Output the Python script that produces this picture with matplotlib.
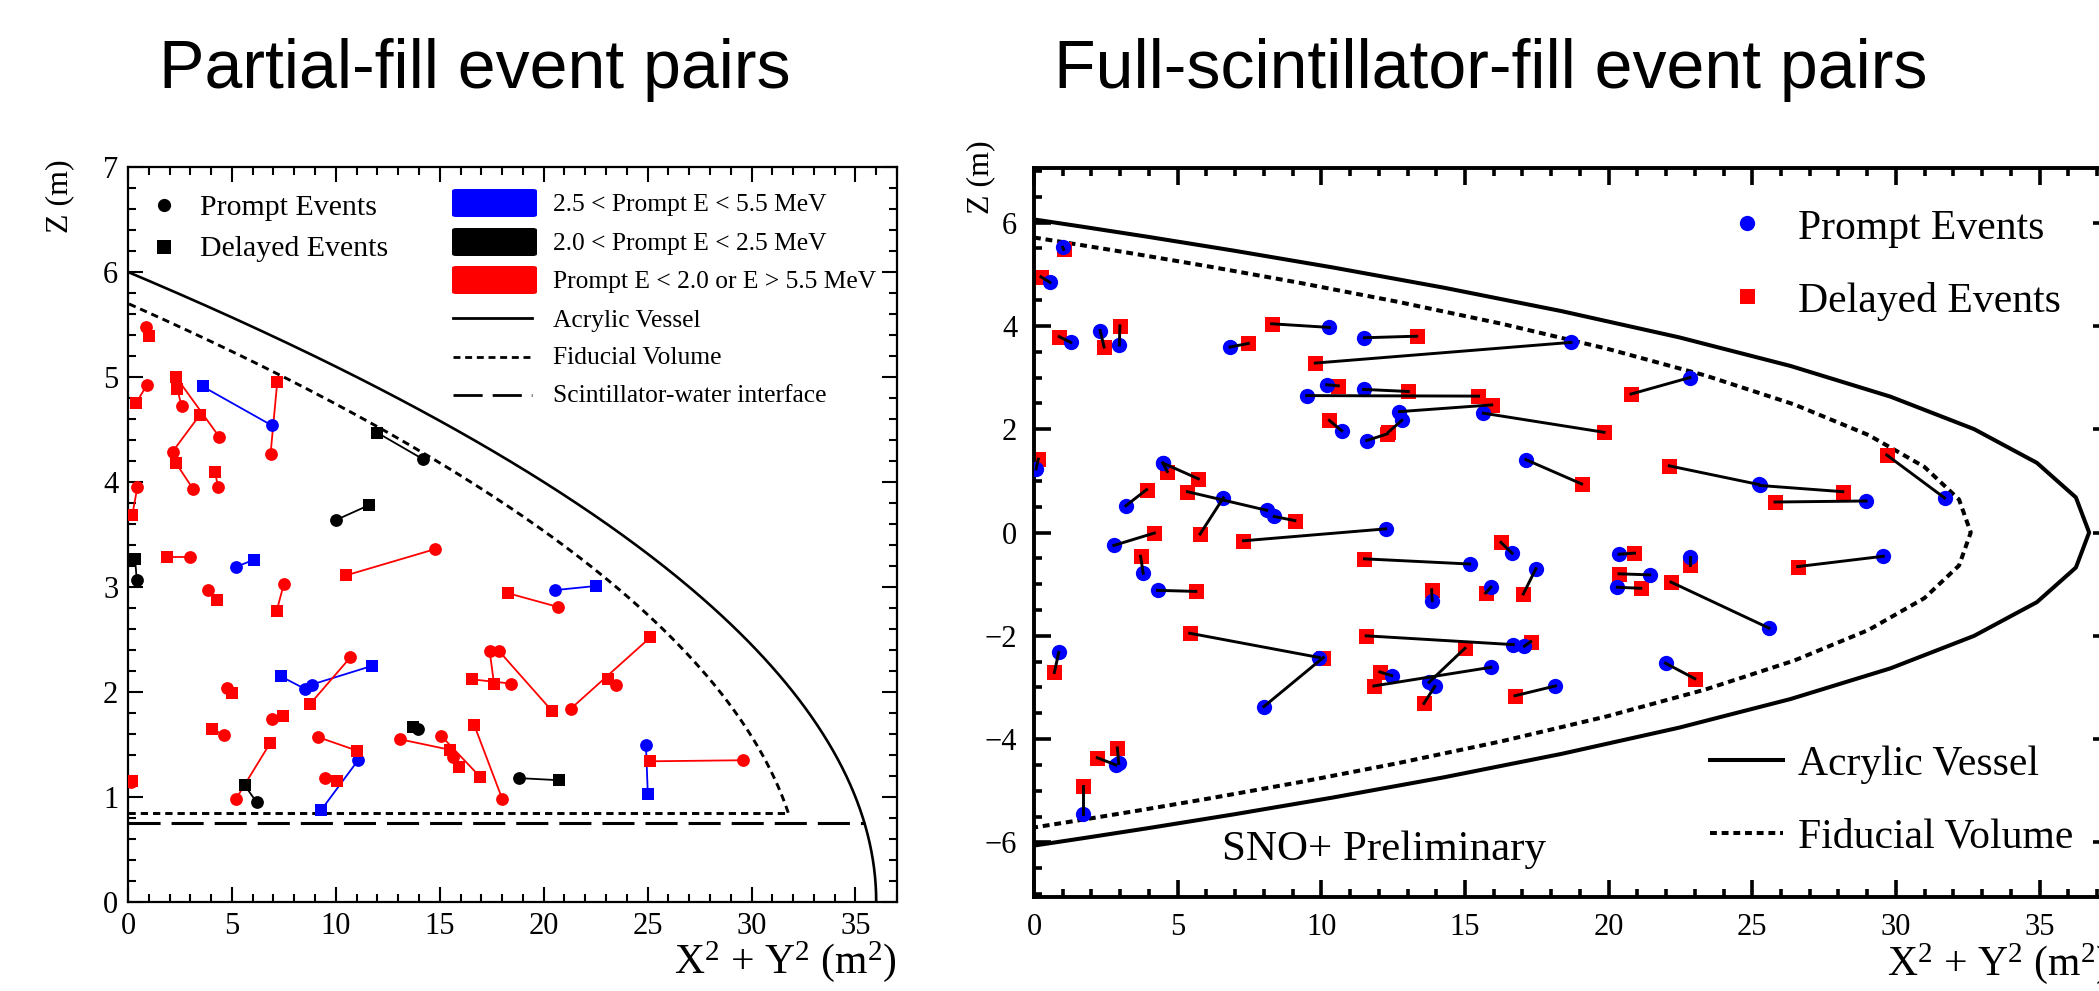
import numpy as np
import matplotlib
matplotlib.use("Agg")
import matplotlib.pyplot as plt
from matplotlib.lines import Line2D
from matplotlib.patches import FancyBboxPatch
from matplotlib.ticker import MultipleLocator

plt.rcParams['font.family'] = ['Liberation Serif', 'DejaVu Serif']
plt.rcParams['mathtext.fontset'] = 'custom'
plt.rcParams['mathtext.rm'] = 'Liberation Serif'
plt.rcParams['mathtext.it'] = 'Liberation Serif:italic'
plt.rcParams['mathtext.bf'] = 'Liberation Serif:bold'

#--------------------------------------------------------
# Partial fill: pares (prompt = circulo, delayed = cuadrado), X^2+Y^2 (m^2) y Z (m)
azul_px = [6.91, 5.18, 8.51, 8.83, 11.07, 20.53, 24.92]
azul_pz = [4.54, 3.19, 2.03, 2.07, 1.35, 2.97, 1.50]
azul_dx = [3.59, 6.06, 7.34, 11.76, 9.31, 22.53, 25.01]
azul_dz = [4.91, 3.26, 2.15, 2.25, 0.88, 3.01, 1.03]

negro_px = [14.17, 10.03, 0.42, 6.19, 13.96, 18.80]
negro_pz = [4.22, 3.64, 3.07, 0.95, 1.65, 1.18]
negro_dx = [11.99, 11.60, 0.34, 5.62, 13.72, 20.72]
negro_dz = [4.47, 3.78, 3.27, 1.11, 1.67, 1.16]

rojo_px = [0.87, 0.90, 4.39, 2.58, 2.15, 3.14, 6.86, 4.34, 0.45, 2.98, 3.86,
           7.50, 14.76, 20.69, 10.70, 4.78, 6.91, 4.62, 5.19, 9.15, 9.47,
           13.08, 15.08, 15.64, 18.01, 0.13, 17.40, 17.85, 18.45, 21.30,
           23.50, 29.58]
rojo_pz = [5.48, 4.92, 4.43, 4.72, 4.29, 3.93, 4.27, 3.95, 3.95, 3.29, 2.97,
           3.03, 3.36, 2.81, 2.33, 2.04, 1.74, 1.59, 0.98, 1.57, 1.18,
           1.55, 1.58, 1.38, 0.98, 1.14, 2.39, 2.39, 2.08, 1.84,
           2.07, 1.35]
rojo_dx = [1.02, 0.38, 2.31, 2.37, 3.46, 2.31, 7.18, 4.18, 0.21, 1.86, 4.26,
           7.15, 10.48, 18.30, 8.78, 4.98, 7.44, 4.02, 6.83, 11.04, 10.06,
           15.48, 16.95, 15.93, 16.65, 0.21, 17.61, 20.40, 16.57, 25.13,
           23.10, 25.10]
rojo_dz = [5.39, 4.75, 5.00, 4.89, 4.64, 4.18, 4.95, 4.10, 3.69, 3.29, 2.88,
           2.77, 3.11, 2.94, 1.89, 1.99, 1.77, 1.65, 1.51, 1.44, 1.15,
           1.45, 1.19, 1.29, 1.69, 1.15, 2.08, 1.82, 2.12, 2.52,
           2.12, 1.34]

# Full fill: pares prompt / delayed
full_px = [1.00, 0.56, 1.28, 2.30, 2.97, 6.82, 10.28, 11.50, 18.69, 10.19,
           11.47, 9.49, 12.72, 12.80, 11.58, 10.71, 0.07, 4.48, 4.50, 8.10,
           8.36, 6.59, 3.20, 12.24, 2.78, 3.80, 4.30, 15.16, 13.86, 9.93,
           8.00, 16.68, 17.07, 12.45, 15.90, 13.75, 13.95, 0.86, 2.85, 2.95,
           1.72, 16.64, 17.47, 15.90, 18.15, 20.36, 21.43, 20.30, 25.58, 22.82,
           29.56, 21.98, 22.83, 15.64, 17.12, 25.22, 25.27, 28.96, 31.69]
full_pz = [5.52, 4.84, 3.68, 3.91, 3.63, 3.59, 3.97, 3.77, 3.68, 2.86,
           2.77, 2.65, 2.34, 2.17, 1.78, 1.97, 1.23, 1.35, 1.34, 0.43,
           0.31, 0.67, 0.52, 0.07, -0.25, -0.79, -1.12, -0.61, -1.32, -2.42,
           -3.37, -2.17, -2.20, -2.77, -2.61, -2.90, -2.98, -2.32, -4.50, -4.47,
           -5.45, -0.40, -0.70, -1.06, -2.97, -0.42, -0.82, -1.06, -1.85, -0.48,
           -0.46, -2.53, 3.00, 2.31, 1.41, 0.93, 0.91, 0.61, 0.67]
full_dx = [1.03, 0.24, 0.88, 2.44, 2.99, 7.46, 8.27, 13.32, 9.79, 10.59,
           13.03, 15.47, 15.93, 12.33, 12.30, 10.28, 0.15, 4.64, 5.72, 5.34,
           9.08, 5.78, 3.92, 7.29, 4.19, 3.71, 5.63, 11.50, 13.84, 5.42,
           10.07, 11.56, 17.29, 12.04, 11.83, 15.00, 13.57, 0.71, 2.20, 2.90,
           1.72, 16.25, 17.03, 15.72, 16.74, 20.90, 20.36, 21.12, 22.17, 22.82,
           26.58, 23.00, 20.78, 19.84, 19.06, 22.11, 28.15, 25.79, 29.68]
full_dz = [5.48, 4.95, 3.79, 3.59, 4.00, 3.66, 4.04, 3.80, 3.28, 2.84,
           2.73, 2.64, 2.47, 1.94, 1.91, 2.17, 1.42, 1.18, 1.04, 0.79,
           0.23, -0.03, 0.83, -0.16, -0.01, -0.46, -1.14, -0.51, -1.11, -1.95,
           -2.42, -2.00, -2.11, -2.70, -2.97, -2.24, -3.31, -2.71, -4.36, -4.17,
           -4.91, -0.19, -1.19, -1.17, -3.16, -0.40, -0.80, -1.08, -0.96, -0.62,
           -0.66, -2.83, 2.68, 1.94, 0.94, 1.29, 0.79, 0.59, 1.50]

W, H = 2099, 991
AZUL, ROJO = '#0000ff', '#ff0000'


def fpx(x, y):
    # pixel de la figura -> fraccion
    return x / W, 1 - y / H


fig = plt.figure(figsize=(W / 100, H / 100), dpi=100)
fig.patch.set_facecolor('white')

#----------------------------------------------------------------
# Panel izquierdo
ax1 = fig.add_axes([128 / W, 1 - 902 / H, (897 - 128) / W, (902 - 167) / H])
ax1.set_xlim(0, 37)
ax1.set_ylim(0, 7)

z = np.linspace(0, 6, 300)
ax1.plot(36 - z ** 2, z, color='black', lw=1.9, zorder=1)
z = np.linspace(0.85, 5.7, 300)
ax1.plot(5.7 ** 2 - z ** 2, z, color='black', lw=2.1, ls=(0, (2.5, 1.7)), zorder=1)
ax1.plot([0, 5.7 ** 2 - 0.85 ** 2], [0.85, 0.85], color='black', lw=2.1,
         ls=(0, (2.5, 1.7)), zorder=1)
ax1.plot([0, 36 - 0.75 ** 2], [0.75, 0.75], color='black', lw=2.2,
         ls=(0, (10.5, 3.6)), zorder=1)

for color, pxs, pzs, dxs, dzs in [(AZUL, azul_px, azul_pz, azul_dx, azul_dz),
                                  ('black', negro_px, negro_pz, negro_dx, negro_dz),
                                  (ROJO, rojo_px, rojo_pz, rojo_dx, rojo_dz)]:
    for a, b, c, d in zip(pxs, pzs, dxs, dzs):
        ax1.plot([a, c], [b, d], color=color, lw=1.3, zorder=2)
    ax1.plot(dxs, dzs, 's', ms=8.6, mew=0, color=color, ls='none', zorder=3)
    ax1.plot(pxs, pzs, 'o', ms=9.2, mew=0, color=color, ls='none', zorder=3)

ax1.xaxis.set_major_locator(MultipleLocator(5))
ax1.xaxis.set_minor_locator(MultipleLocator(1))
ax1.yaxis.set_major_locator(MultipleLocator(1))
ax1.yaxis.set_minor_locator(MultipleLocator(0.2))
ax1.tick_params(which='both', direction='in', top=True, right=True, width=1.5,
                labelsize=22)
ax1.tick_params(which='major', length=11, pad=7)
ax1.tick_params(which='minor', length=5.5)
for s in ax1.spines.values():
    s.set_linewidth(1.6)

#----------------------------------------------------------------
# Panel derecho
ax2 = fig.add_axes([1034 / W, 1 - 896.7 / H, (2110 - 1034) / W, (896.7 - 168.3) / H])
ax2.set_xlim(0, 37.45)
ax2.set_ylim(-7.05, 7.05)

t = np.linspace(0, np.pi, 29)
ax2.plot(6.06 ** 2 * np.sin(t) ** 2, 6.06 * np.cos(t), color='black', lw=2.9, zorder=1)
ax2.plot(5.71 ** 2 * np.sin(t) ** 2, 5.71 * np.cos(t), color='black', lw=2.9,
         ls=(0, (1.7, 1.2)), zorder=1)

ax2.plot(full_dx, full_dz, 's', ms=10.8, mew=0, color=ROJO, ls='none', zorder=2)
ax2.plot(full_px, full_pz, 'o', ms=11, mew=0, color=AZUL, ls='none', zorder=3)
for a, b, c, d in zip(full_px, full_pz, full_dx, full_dz):
    ax2.plot([a, c], [b, d], color='black', lw=2.1, zorder=4)

ax2.xaxis.set_major_locator(MultipleLocator(5))
ax2.xaxis.set_minor_locator(MultipleLocator(1))
ax2.yaxis.set_major_locator(MultipleLocator(2))
ax2.yaxis.set_minor_locator(MultipleLocator(0.5))
ax2.tick_params(which='both', direction='in', top=True, right=True, width=2.6,
                labelsize=22)
ax2.tick_params(which='major', length=12.5, pad=12)
ax2.tick_params(which='minor', length=6)
for s in ax2.spines.values():
    s.set_linewidth(2.8)

#----------------------------------------------------------------
# Textos
fig.text(*fpx(475, 88), 'Partial-fill event pairs', ha='center', va='baseline',
         fontsize=49, family='Liberation Sans')
fig.text(*fpx(1491, 88), 'Full-scintillator-fill event pairs', ha='center',
         va='baseline', fontsize=49, family='Liberation Sans')

xlab = r'X$^{2}$ + Y$^{2}$ (m$^{2}$)'
fig.text(*fpx(897, 973), xlab, ha='right', va='baseline', fontsize=30)
fig.text(*fpx(2110, 975), xlab, ha='right', va='baseline', fontsize=30)
fig.text(*fpx(60, 196), 'Z (m)', rotation=90, ha='center', va='center', fontsize=23)
fig.text(*fpx(981, 177), 'Z (m)', rotation=90, ha='center', va='center', fontsize=23)

# Leyenda de marcadores (izquierda)
for y, m, lab, yb in [(205, 'o', 'Prompt Events', 215), (247, 's', 'Delayed Events', 256)]:
    fig.add_artist(Line2D([164 / W], [1 - y / H], transform=fig.transFigure,
                          marker=m, ms=9.5, mew=0, color='black', ls='none'))
    fig.text(*fpx(200, yb), lab, ha='left', va='baseline', fontsize=21.5)

# Leyenda de energias y lineas (izquierda)
for y, c, lab, yb in [(203, AZUL, '2.5 < Prompt E < 5.5 MeV', 211),
                      (242, 'black', '2.0 < Prompt E < 2.5 MeV', 249.5),
                      (280, ROJO, 'Prompt E < 2.0 or E > 5.5 MeV', 288)]:
    x0, y0 = fpx(452, y + 14)
    fig.add_artist(FancyBboxPatch((x0, y0), 85 / W, 28 / H, transform=fig.transFigure,
                                  boxstyle='round,pad=0,rounding_size=0.002',
                                  facecolor=c, edgecolor='none'))
    fig.text(*fpx(553, yb), lab, ha='left', va='baseline', fontsize=18.4)

for y, ls, lab, yb in [(318, '-', 'Acrylic Vessel', 327),
                       (357, (0, (2.5, 1.7)), 'Fiducial Volume', 363.5),
                       (395, (0, (10.5, 3.6)), 'Scintillator-water interface', 402.5)]:
    fig.add_artist(Line2D([453 / W, 532 / W], [1 - y / H, 1 - y / H],
                          transform=fig.transFigure, color='black', lw=2.0, ls=ls))
    fig.text(*fpx(553, yb), lab, ha='left', va='baseline', fontsize=18.4)

# Leyenda del panel derecho
fig.add_artist(Line2D([1747 / W], [1 - 223 / H], transform=fig.transFigure,
                      marker='o', ms=11, mew=0, color=AZUL, ls='none'))
fig.add_artist(Line2D([1747 / W], [1 - 296 / H], transform=fig.transFigure,
                      marker='s', ms=10.8, mew=0, color=ROJO, ls='none'))
fig.text(*fpx(1798, 239), 'Prompt Events', ha='left', va='baseline', fontsize=30)
fig.text(*fpx(1798, 312), 'Delayed Events', ha='left', va='baseline', fontsize=30)

fig.add_artist(Line2D([1710 / W, 1783 / W], [1 - 760 / H, 1 - 760 / H],
                      transform=fig.transFigure, color='black', lw=2.9))
fig.add_artist(Line2D([1710 / W, 1783 / W], [1 - 833 / H, 1 - 833 / H],
                      transform=fig.transFigure, color='black', lw=2.9, ls=(0, (1.7, 1.2))))
fig.text(*fpx(1798, 775), 'Acrylic Vessel', ha='left', va='baseline', fontsize=30)
fig.text(*fpx(1798, 847), 'Fiducial Volume', ha='left', va='baseline', fontsize=30)

fig.text(*fpx(1222, 860), 'SNO+ Preliminary', ha='left', va='baseline', fontsize=31)

fig.savefig('out.png', dpi=100)
